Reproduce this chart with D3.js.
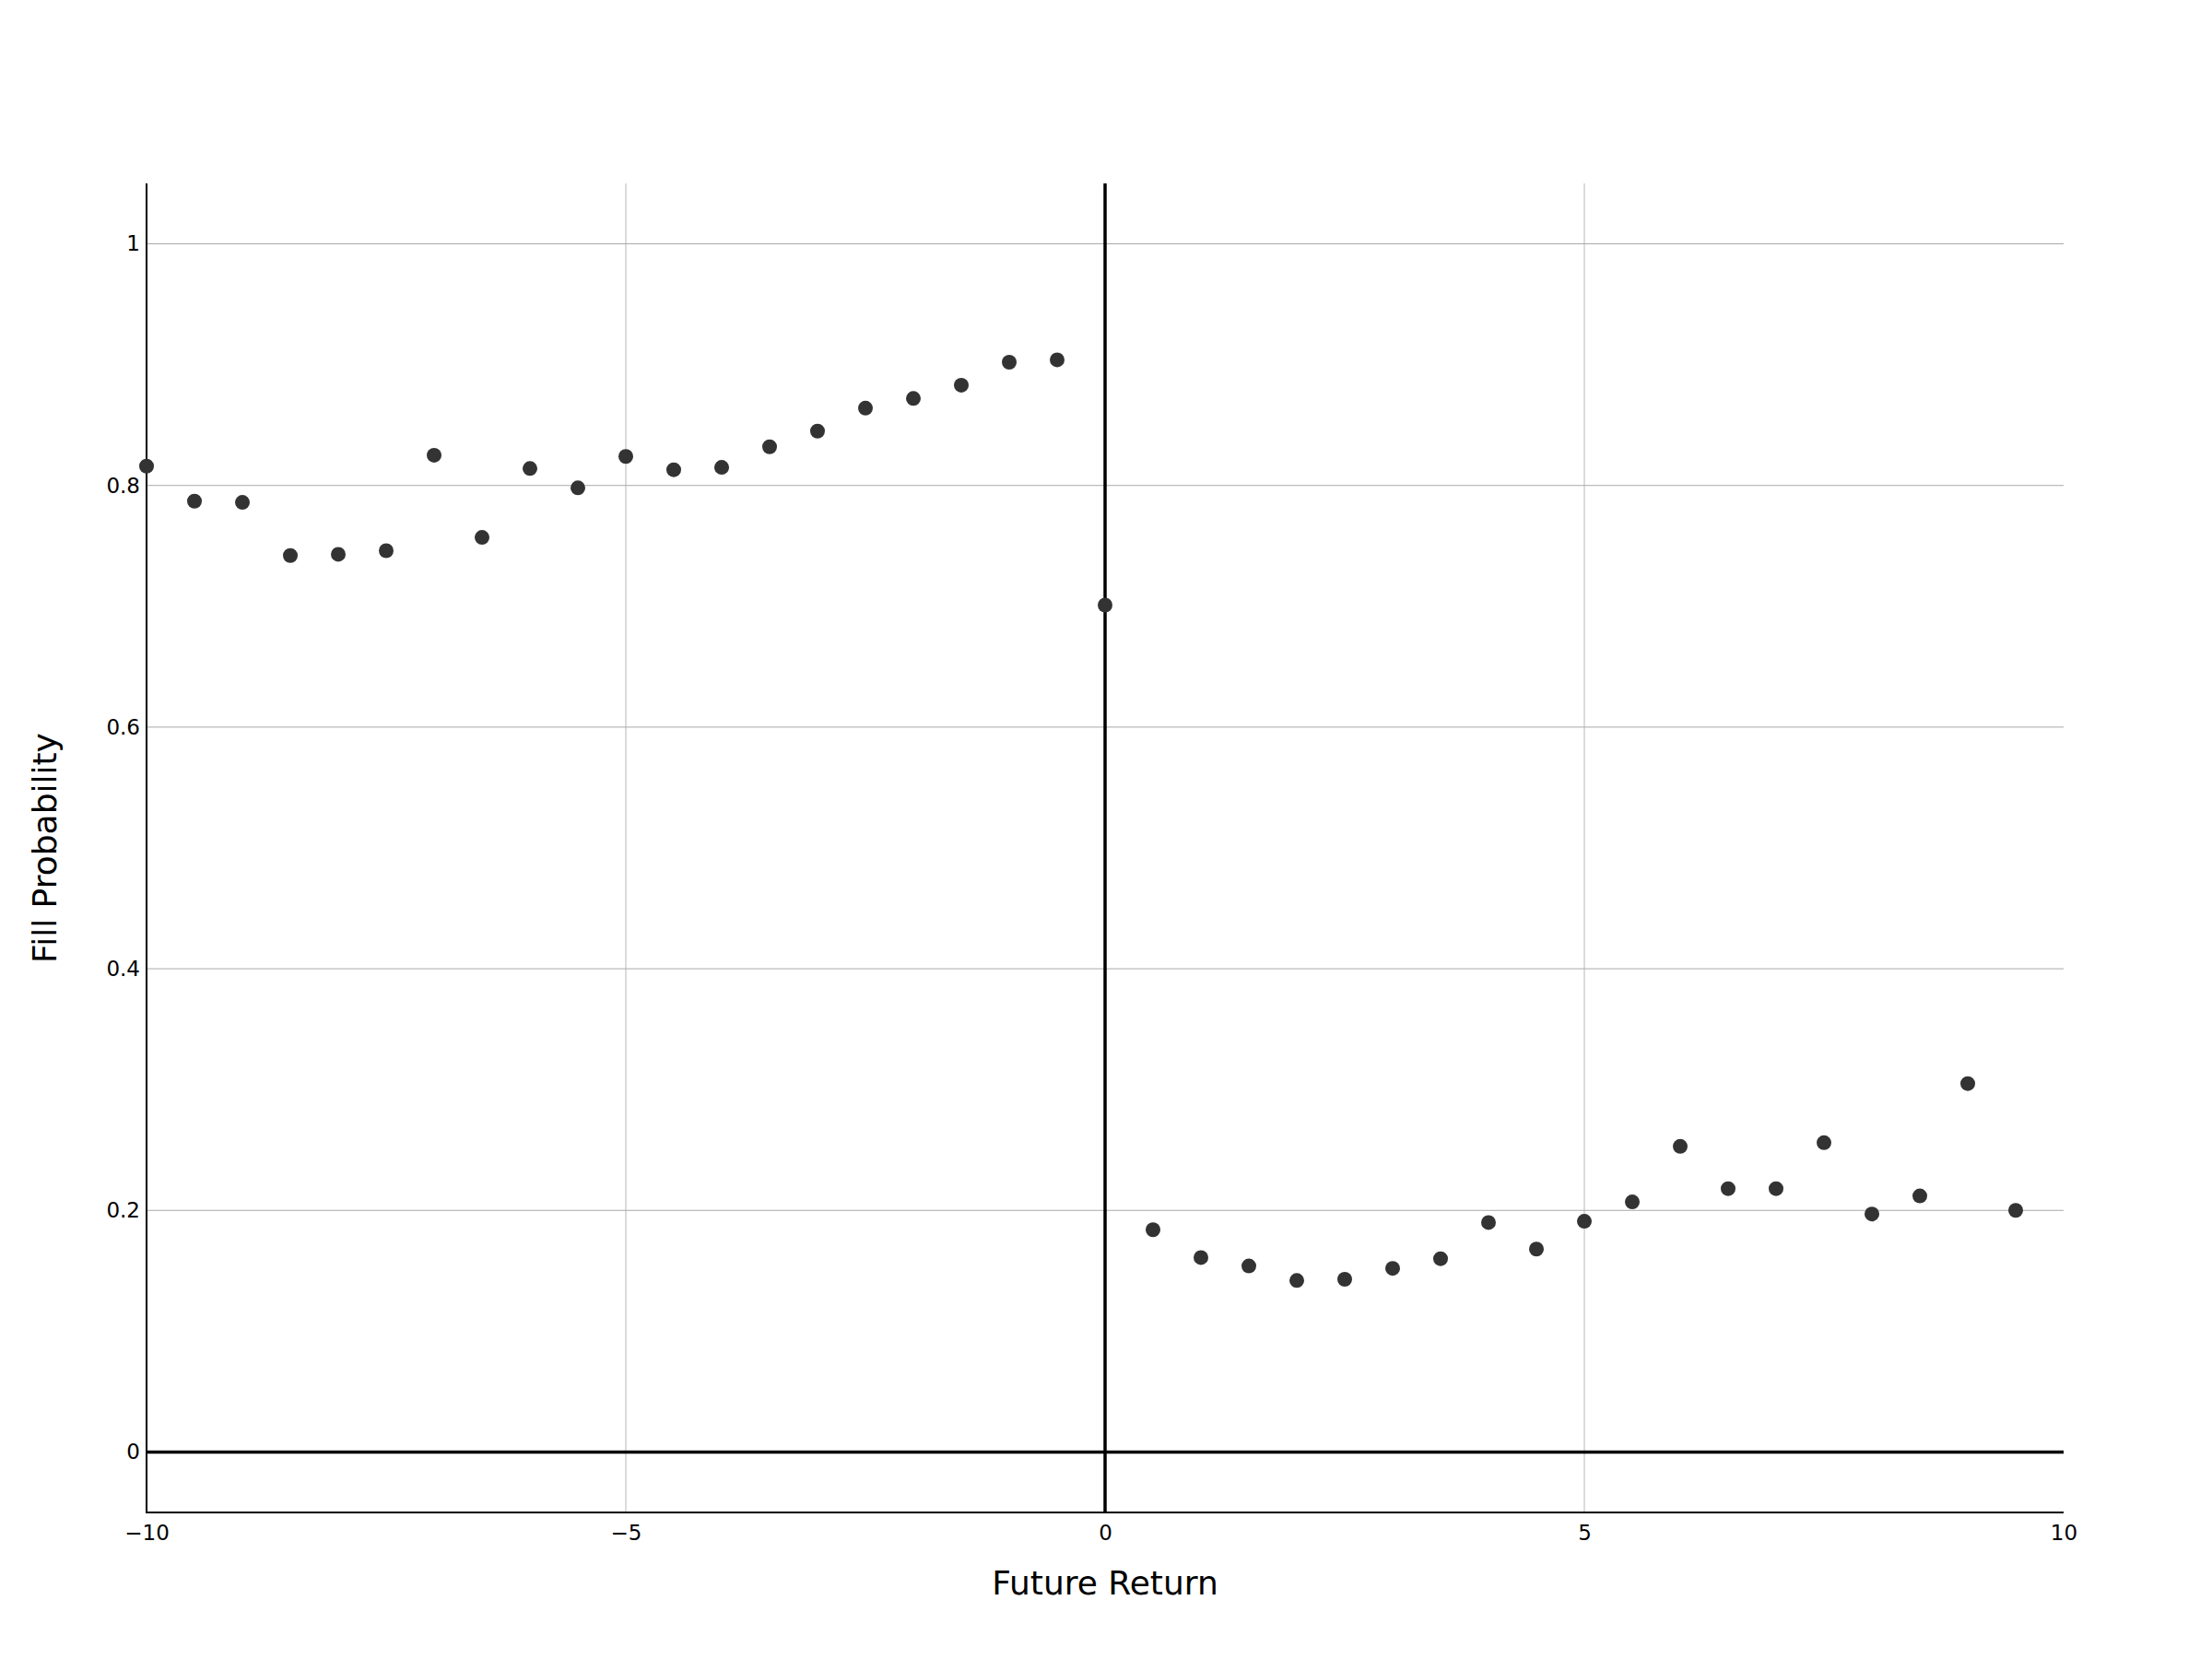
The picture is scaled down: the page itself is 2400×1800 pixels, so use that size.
<!DOCTYPE html>
<html>
<head>
<meta charset="utf-8">
<script src="https://cdn.jsdelivr.net/npm/d3@7"></script>
<style>
    body { margin: 0; background: #fff; }
    svg { display: block; font-family: Verdana, "DejaVu Sans", sans-serif; }
</style>
</head>
<body>
<div id="chart"></div>
<script>
// future return buckets (x) and fill probability (y)
const returns = [-10, -9.5, -9, -8.5, -8, -7.5, -7, -6.5, -6, -5.5, -5, -4.5, -4, -3.5, -3, -2.5, -2, -1.5, -1, -0.5,
    0, 0.5, 1, 1.5, 2, 2.5, 3, 3.5, 4, 4.5, 5, 5.5, 6, 6.5, 7, 7.5, 8, 8.5, 9, 9.5];
const fillProb = [0.816, 0.787, 0.786, 0.742, 0.743, 0.746, 0.825, 0.757, 0.814, 0.798, 0.824, 0.813, 0.815, 0.832, 0.845, 0.864, 0.872, 0.883, 0.902, 0.904,
    0.701, 0.184, 0.161, 0.154, 0.142, 0.143, 0.152, 0.160, 0.190, 0.168, 0.191, 0.207, 0.253, 0.218, 0.218, 0.256, 0.197, 0.212, 0.305, 0.200];

const xTicks = [-10, -5, 0, 5, 10];
const yTicks = [0, 0.2, 0.4, 0.6, 0.8, 1];
const xDomain = [-10, 10];
const yDomain = [-0.05, 1.05];

const W = 2400, H = 1800;
const margin = { top: 199, right: 161, bottom: 159, left: 159 };
const width = W - margin.left - margin.right;
const height = H - margin.top - margin.bottom;

const svg = d3.select("#chart").append("svg")
    .attr("width", W)
    .attr("height", H);

svg.append("rect").attr("width", W).attr("height", H).attr("fill", "#fff");

const g = svg.append("g")
    .attr("transform", `translate(${margin.left},${margin.top})`);

const x = d3.scaleLinear().domain(xDomain).range([0, width]);
const y = d3.scaleLinear().domain(yDomain).range([height, 0]);

// grid (edges + zero get their own lines)
g.append("g").selectAll("line")
    .data(xTicks.filter(d => d !== 0 && d !== xDomain[0] && d !== xDomain[1]))
    .join("line")
    .attr("x1", d => x(d)).attr("x2", d => x(d))
    .attr("y1", 0).attr("y2", height)
    .attr("stroke", "#cfcfcf").attr("stroke-width", 1.5);

g.append("g").selectAll("line")
    .data(yTicks.filter(d => d !== 0))
    .join("line")
    .attr("x1", 0).attr("x2", width)
    .attr("y1", d => y(d)).attr("y2", d => y(d))
    .attr("stroke", "#a9a9a9").attr("stroke-width", 1);

// zero lines
g.append("line")
    .attr("x1", 0).attr("x2", width)
    .attr("y1", y(0)).attr("y2", y(0))
    .attr("stroke", "#000").attr("stroke-width", 3.5);
g.append("line")
    .attr("x1", x(0)).attr("x2", x(0))
    .attr("y1", 0).attr("y2", height)
    .attr("stroke", "#000").attr("stroke-width", 3.5);

// axes (no tick marks, plain lines)
const xAxis = g.append("g")
    .attr("transform", `translate(0,${height})`)
    .call(d3.axisBottom(x).tickValues(xTicks).tickSize(0).tickFormat(d3.format("~f")));
const yAxis = g.append("g")
    .call(d3.axisLeft(y).tickValues(yTicks).tickSize(0).tickPadding(7).tickFormat(d3.format("~f")));

[xAxis, yAxis].forEach(ax => {
    ax.select(".domain").remove();
    ax.selectAll("text")
        .style("font-family", 'Verdana, "DejaVu Sans", sans-serif')
        .style("font-size", "23px")
        .attr("fill", "#000");
});
xAxis.selectAll("text").attr("dy", 0).attr("y", 30);

g.append("line")
    .attr("x1", 0).attr("x2", 0).attr("y1", 0).attr("y2", height + 1)
    .attr("stroke", "#000").attr("stroke-width", 2);
g.append("line")
    .attr("x1", -1).attr("x2", width).attr("y1", height).attr("y2", height)
    .attr("stroke", "#000").attr("stroke-width", 2);

// points
g.append("g").selectAll("circle")
    .data(returns.map((r, i) => ({ r: r, p: fillProb[i] })))
    .join("circle")
    .attr("cx", d => x(d.r))
    .attr("cy", d => y(d.p))
    .attr("r", 8)
    .attr("fill", "#333333");

// axis titles
svg.append("text")
    .attr("x", margin.left + width / 2)
    .attr("y", 1730)
    .attr("text-anchor", "middle")
    .style("font-size", "36px")
    .attr("fill", "#000")
    .text("Future Return");

svg.append("text")
    .attr("transform", `translate(61,${margin.top + height / 2}) rotate(-90)`)
    .attr("text-anchor", "middle")
    .style("font-size", "36px")
    .attr("fill", "#000")
    .text("Fill Probability");
</script>
</body>
</html>
